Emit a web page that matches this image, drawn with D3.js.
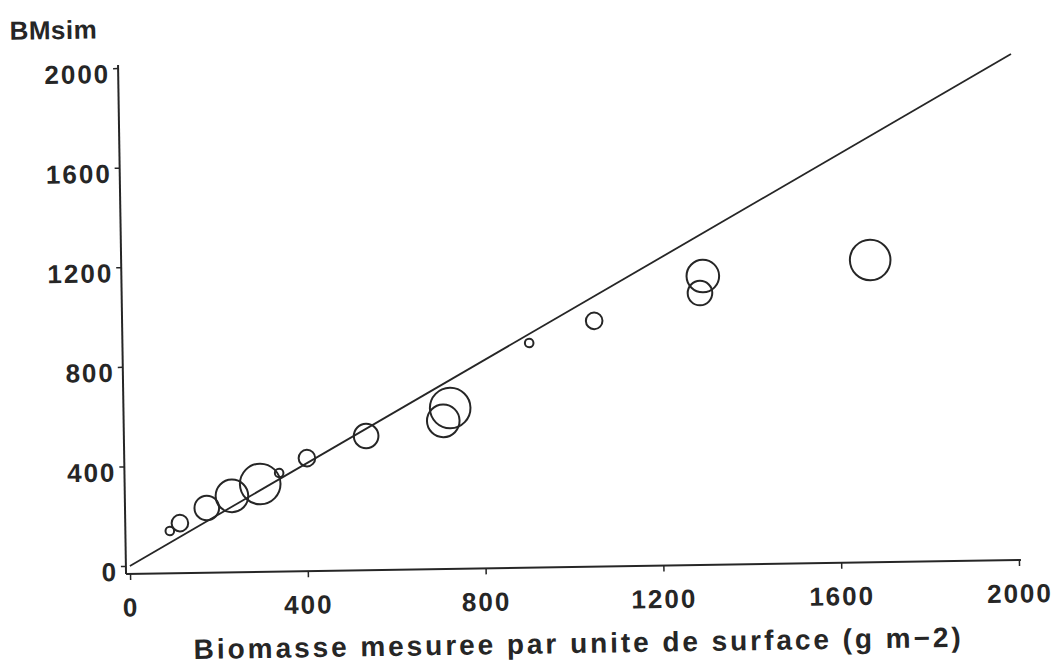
<!DOCTYPE html>
<html>
<head>
<meta charset="utf-8">
<script src="https://cdn.jsdelivr.net/npm/d3@7"></script>
<style>
  body { margin: 0; background: #fff; }
  .axis text { font-family: "Liberation Sans", Arial, sans-serif; font-weight: bold; font-size: 26px; letter-spacing: 2px; fill: #262626; }
</style>
</head>
<body>
<div id="chart"></div>
<script>
// tick values on both axes
const xTicks = [0, 400, 800, 1200, 1600, 2000];
const yTicks = [0, 400, 800, 1200, 1600, 2000];

// measured vs simulated biomass (g m-2), circle size class
const measured = [91, 114, 175, 232, 296, 339, 402, 536, 726, 710, 906, 1053, 1299, 1292, 1676];
const simulated = [138, 169, 228, 275, 321, 364, 422, 507, 614, 563, 870, 955, 1128, 1060, 1182];
const sizeClass = [1, 2, 3, 4, 5, 1, 2, 3, 5, 4, 1, 2, 4, 3, 5];

// 1:1 reference line
const identity = [0, 2000];

const width = 1057;
const height = 668;
const ink = "#262626";

const points = measured.map((m, i) => ({ x: m, y: simulated[i], s: sizeClass[i] }));

const x = d3.scaleLinear().domain([0, 2000]).range([130, 1019]);
const y = d3.scaleLinear().domain([0, 2000]).range([566, 68]);
const r = d3.scaleLinear().domain([1, 5]).range([4.3, 20.3]);

const svg = d3
  .create("svg")
  .attr("width", width)
  .attr("height", height)
  .attr("viewBox", [0, 0, width, height]);

// the scanned figure is a little tilted
const g = svg.append("g").attr("transform", "rotate(-0.9,128,572)");

const xAxisY = 574;
const yAxisX = 126;

// horizontal axis
g.append("g")
  .attr("class", "axis")
  .attr("transform", `translate(0,${xAxisY})`)
  .call(d3.axisBottom(x).tickValues(xTicks).tickSize(6).tickPadding(18).tickFormat(d3.format("d")))
  .call((a) => a.select(".domain").remove())
  .call((a) => a.selectAll(".tick line").attr("stroke", ink).attr("stroke-width", 1.5))
  .call((a) =>
    a.append("line")
      .attr("x1", yAxisX)
      .attr("x2", 1021)
      .attr("stroke", ink)
      .attr("stroke-width", 2)
  );

// vertical axis
g.append("g")
  .attr("class", "axis")
  .attr("transform", `translate(${yAxisX},0)`)
  .call(d3.axisLeft(y).tickValues(yTicks).tickSize(5).tickPadding(3).tickFormat(d3.format("d")))
  .call((a) => a.select(".domain").remove())
  .call((a) => a.selectAll(".tick line").attr("stroke", ink).attr("stroke-width", 1.5))
  .call((a) => a.selectAll(".tick text").attr("dy", "0.55em"))
  .call((a) =>
    a.append("line")
      .attr("y1", y(2000) - 3)
      .attr("y2", xAxisY)
      .attr("stroke", ink)
      .attr("stroke-width", 2)
  );

// y=x line
g.append("line")
  .attr("x1", x(identity[0]))
  .attr("y1", y(identity[0]))
  .attr("x2", x(identity[1]))
  .attr("y2", y(identity[1]))
  .attr("stroke", ink)
  .attr("stroke-width", 1.8);

// circles
g.append("g")
  .attr("fill", "none")
  .attr("stroke", ink)
  .attr("stroke-width", 2)
  .selectAll("circle")
  .data(points)
  .join("circle")
  .attr("cx", (d) => x(d.x))
  .attr("cy", (d) => y(d.y))
  .attr("r", (d) => r(d.s));

// axis titles
g.append("text")
  .attr("x", 18)
  .attr("y", 38)
  .attr("font-family", "Liberation Sans, Arial, sans-serif")
  .attr("font-weight", "bold")
  .attr("font-size", 26)
  .attr("letter-spacing", 0.5)
  .attr("fill", ink)
  .text("BMsim");

g.append("text")
  .attr("x", 576)
  .attr("y", 660)
  .attr("text-anchor", "middle")
  .attr("font-family", "Liberation Sans, Arial, sans-serif")
  .attr("font-weight", "bold")
  .attr("font-size", 28)
  .attr("fill", ink)
  .attr("textLength", 767)
  .attr("lengthAdjust", "spacing")
  .text("Biomasse mesuree par unite de surface (g  m\u22122)");

document.getElementById("chart").appendChild(svg.node());
</script>
</body>
</html>
